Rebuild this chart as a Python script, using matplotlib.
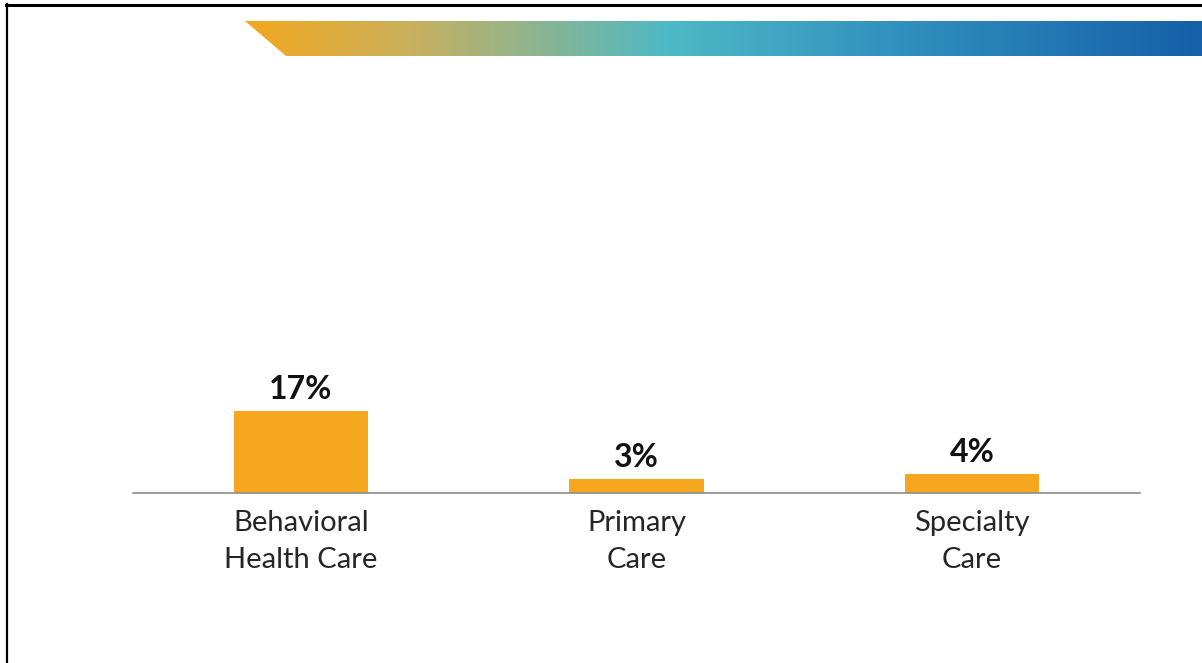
import numpy as np
import matplotlib.pyplot as plt
from matplotlib.colors import LinearSegmentedColormap
from matplotlib.patches import Polygon
from matplotlib.lines import Line2D

# Chart data
categories = ['Behavioral\nHealth Care', 'Primary\nCare', 'Specialty\nCare']
values = [17, 3, 4]
value_labels = ['17%', '3%', '4%']

W, H = 1202, 663
BAR_COLOR = '#F5A81F'
FONT = ['Lato', 'DejaVu Sans']

fig = plt.figure(figsize=(W / 100, H / 100), dpi=100)
fig.patch.set_facecolor('white')


def px(x, y):
    # pixel coords (top-left origin) -> figure fraction
    return x / W, 1 - y / H


# Gradient banner across the top
ban = fig.add_axes([0, 0, 1, 1])
ban.set_xlim(0, W)
ban.set_ylim(H, 0)
ban.axis('off')
cmap = LinearSegmentedColormap.from_list('banner', [
    (0.0, '#F2A81E'),
    (0.162, '#CDB05A'),
    (0.444, '#4DB9C6'),
    (0.684, '#3290BE'),
    (1.0, '#1560A8'),
])
grad = np.linspace(0, 1, 512).reshape(1, -1)
img = ban.imshow(grad, cmap=cmap, aspect='auto', extent=[245, W, 56, 21])
clip = Polygon([(245, 21), (W, 21), (W, 56), (286, 56)], closed=True,
               transform=ban.transData, facecolor='none', edgecolor='none')
ban.add_patch(clip)
img.set_clip_path(clip)

# Frame lines (top and left)
fig.add_artist(Line2D([px(6, 0)[0], 1], [px(0, 5)[1]] * 2, color='black', lw=2.2))
fig.add_artist(Line2D([px(7, 0)[0]] * 2, [px(0, 4)[1], 0], color='black', lw=1.6))

# Bar chart axes: x from 133 to 1140 px, baseline at 493 px
left, right = 133, 1140
bottom, top = 493, 100
ax = fig.add_axes([left / W, 1 - bottom / H, (right - left) / W, (bottom - top) / H])
ax.set_facecolor('none')
x = np.arange(len(categories))
bars = ax.bar(x, values, width=0.4, color=BAR_COLOR, zorder=2)
ax.set_xlim(-0.5, len(categories) - 0.5)
ax.set_ylim(0, (bottom - top) / 4.82)

for rect, lab in zip(bars, value_labels):
    ax.annotate(lab, (rect.get_x() + rect.get_width() / 2, rect.get_height()),
                xytext=(0, 5), textcoords='offset points', ha='center', va='bottom',
                fontsize=23, fontweight='bold', family=FONT, color='#111111')

ax.set_xticks(x)
ax.set_xticklabels(categories, fontsize=21, family=FONT, color='#262626', linespacing=1.55)
ax.tick_params(axis='x', length=0, pad=12)
ax.set_yticks([])
for s in ['top', 'right', 'left']:
    ax.spines[s].set_visible(False)
ax.spines['bottom'].set_color('#8C8C8C')
ax.spines['bottom'].set_linewidth(1.2)

fig.savefig('out.png', dpi=100)
